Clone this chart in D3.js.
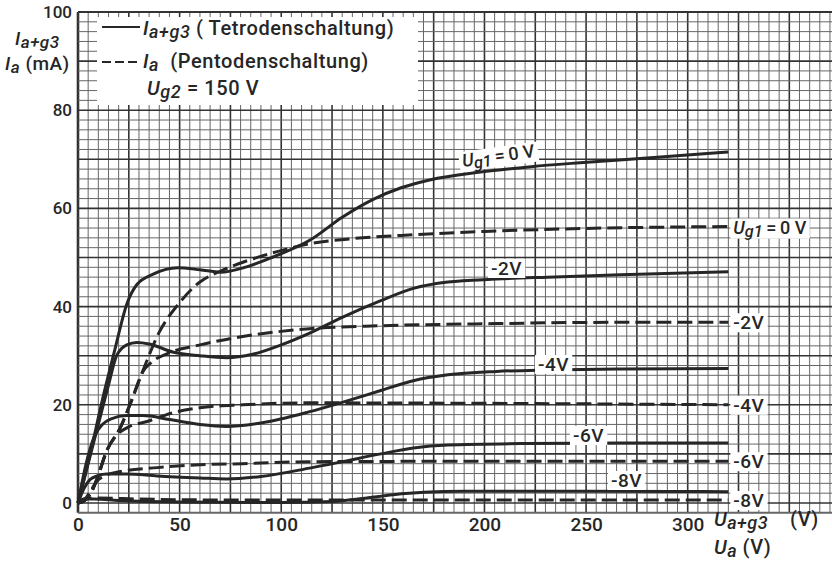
<!DOCTYPE html>
<html>
<head>
<meta charset="utf-8">
<script src="https://cdn.jsdelivr.net/npm/d3@7"></script>
<style>
  html, body { margin: 0; padding: 0; background: #fff; }
  svg { display: block; font-family: Roboto, "DejaVu Sans", sans-serif; }
</style>
</head>
<body>
<svg id="chart" width="832" height="563"></svg>
<script>
// Axis ticks
const anodeTicks = [0, 50, 100, 150, 200, 250, 300];     // U (V)
const currentTicks = [0, 20, 40, 60, 80, 100];           // I (mA)

// Tetrode connection (solid): [U_a+g3 in V, I_a+g3 in mA]
const tetrode0 = [[0,0],[6,10],[12,21],[18,31],[24,40.5],[29,44.5],[37,46.6],[49,47.9],[60,47.5],[70,47],[83,48.1],[96,50.1],[114,53.5],[130,58.2],[145,61.8],[159,64.2],[173,65.8],[198,67.4],[223,68.5],[247,69.3],[285,70.4],[320,71.5]];
const tetrodeM2 = [[0,0],[5,8],[10,16],[15,24],[19,30],[24,32.2],[29,32.7],[35,32.4],[47,30.7],[60,30],[73,29.6],[86,30.3],[100,32.2],[114,34.6],[130,37.8],[149,41.2],[165,43.7],[182,45],[206,45.6],[231,46],[267,46.5],[320,47.1]];
const tetrodeM4 = [[0,0],[4,8],[8,13.5],[12,16],[16,17.1],[24,17.8],[32,17.8],[45,17],[60,16],[73,15.6],[90,16.3],[114,18.6],[130,20.5],[149,22.9],[165,24.9],[182,26.1],[206,26.8],[231,27.1],[267,27.3],[320,27.4]];
const tetrodeM6 = [[0,0],[3,3],[6,4.8],[10,5.6],[14,5.9],[24,5.9],[39,5.5],[60,5.1],[73,4.9],[90,5.4],[114,7.1],[130,8.4],[149,10],[165,11.2],[182,11.8],[220,12.1],[267,12.2],[320,12.2]];
const tetrodeM8 = [[0,0],[3,0.8],[8,0.8],[20,0.5],[50,0.2],[100,0.1],[125,0.3],[140,0.9],[155,1.7],[170,2.2],[190,2.4],[250,2.4],[320,2.3]];

// Pentode connection (dashed): [U_a in V, I_a in mA]
const pentode0 = [[0,0],[3,0.4],[6,1.8],[9,4.5],[14,10.5],[21,15.5],[26,20.5],[32,27],[40,34.8],[49,40.3],[60,45],[70,47.2],[83,49.3],[98,51.2],[114,52.8],[134,53.8],[159,54.5],[200,55.3],[247,55.9],[320,56.3]];
const pentodeM2 = [[0,0],[3,0.4],[6,1.8],[9,4.5],[14,10.5],[21,15.5],[26,20.5],[32,26.8],[36,28.6],[45,30.6],[60,32.2],[81,33.9],[114,35.5],[149,36.1],[200,36.5],[267,36.8],[320,36.8]];
const pentodeM4 = [[0,0],[3,0.4],[6,1.8],[9,4.5],[14,10.5],[19,13.8],[24,15.3],[34,16.6],[47,18.4],[60,19.4],[81,20],[114,20.4],[200,20.3],[320,20]];
const pentodeM6 = [[0,0],[3,0.6],[6,2.3],[9,4.3],[13,5.5],[21,6.4],[39,7.2],[60,7.8],[81,8],[114,8.4],[200,8.5],[320,8.5]];
const pentodeM8 = [[0,0],[3,0.8],[10,1],[30,0.8],[80,0.6],[150,0.6],[250,0.6],[320,0.6]];

// Grid-1 voltage labels
const gridVoltages = ["0 V", "-2V", "-4V", "-6V", "-8V"];

const ink = "#262626";
const svg = d3.select("#chart");

const x = d3.scaleLinear().domain([0, 371]).range([78, 832]);
const y = d3.scaleLinear().domain([-2, 100]).range([512.8, 12]);

// ---- graph paper ----
const grid = svg.append("g");
const vLines = d3.range(0, 371, 5);
const hLines = d3.range(-2, 101, 2);
grid.selectAll("line.v").data(vLines).join("line")
  .attr("x1", d => x(d)).attr("x2", d => x(d))
  .attr("y1", y(100)).attr("y2", y(-2))
  .attr("stroke", d => d % 25 === 0 ? "#333" : "#666")
  .attr("stroke-width", d => d === 0 ? 2.6 : (d % 25 === 0 ? 1.6 : 1));
grid.selectAll("line.h").data(hLines).join("line")
  .attr("x1", x(0)).attr("x2", 832)
  .attr("y1", d => y(d)).attr("y2", d => y(d))
  .attr("stroke", d => d % 10 === 0 ? "#333" : "#666")
  .attr("stroke-width", d => (d === -2 || d === 100) ? 2 : (d % 10 === 0 ? 1.6 : 1));

// ---- axes (labels only, the paper provides the lines) ----
const yAxis = svg.append("g").attr("transform", `translate(${x(0)},0)`)
  .call(d3.axisLeft(y).tickValues(currentTicks).tickSize(0).tickPadding(6));
yAxis.select(".domain").remove();
yAxis.selectAll("text").attr("font-size", 17).attr("font-family", "Roboto, sans-serif")
  .attr("font-weight", 500).attr("fill", ink);

const xAxis = svg.append("g").attr("transform", `translate(0,${y(-2)})`)
  .call(d3.axisBottom(x).tickValues(anodeTicks).tickSize(0).tickPadding(5));
xAxis.select(".domain").remove();
xAxis.selectAll("text").attr("font-size", 19).attr("font-family", "Roboto, sans-serif")
  .attr("font-weight", 500).attr("fill", ink);

// ---- rich text helper (italic symbols with subscripts) ----
function rich(sel, parts, size) {
  let shift = 0;
  parts.forEach(p => {
    const want = p.sub ? size * 0.17 : 0;
    sel.append("tspan")
      .attr("dy", want - shift)
      .attr("font-style", p.it ? "italic" : "normal")
      .attr("font-size", p.sub ? size * 0.9 : size)
      .text(p.t);
    shift = want;
  });
  return sel;
}

function label(parent, px, py, parts, size, opts = {}) {
  const g = parent.append("g");
  if (opts.rotate) g.attr("transform", `rotate(${opts.rotate},${px},${py})`);
  const t = g.append("text").attr("x", px).attr("y", py)
    .attr("fill", ink).attr("font-size", size).attr("font-weight", 500)
    .attr("letter-spacing", opts.ls == null ? 0.5 : opts.ls)
    .attr("xml:space", "preserve");
  rich(t, parts, size);
  if (opts.bg) {
    const b = t.node().getBBox();
    g.insert("rect", "text")
      .attr("x", b.x - 3).attr("y", b.y + 2)
      .attr("width", b.width + 6).attr("height", b.height - 4)
      .attr("fill", "#fff");
  }
  return g;
}

// ---- curves ----
const line = d3.line().x(d => x(d[0])).y(d => y(d[1])).curve(d3.curveMonotoneX);
const curves = svg.append("g").attr("fill", "none").attr("stroke", ink)
  .attr("stroke-width", 3).attr("stroke-linecap", "butt");

[pentode0, pentodeM2, pentodeM4, pentodeM6, pentodeM8].forEach(s =>
  curves.append("path").attr("d", line(s)).attr("stroke-dasharray", "15,6"));
[tetrode0, tetrodeM2, tetrodeM4, tetrodeM6, tetrodeM8].forEach(s =>
  curves.append("path").attr("d", line(s)));

// ---- curve labels ----
const labels = svg.append("g");
const eq = "\u2009=\u2009";
// solid-curve labels inside the field
label(labels, 463, 167, [{t:"U", it:true}, {t:"g1", it:true, sub:true}, {t:eq + gridVoltages[0]}], 18, {bg:true, rotate:-8, ls:0});
label(labels, 491, 275, [{t:gridVoltages[1]}], 19, {bg:true});
label(labels, 538, 371, [{t:gridVoltages[2]}], 19, {bg:true});
label(labels, 573, 442, [{t:gridVoltages[3]}], 19, {bg:true});
label(labels, 611, 487, [{t:gridVoltages[4]}], 19, {bg:true});

// dashed-curve labels at the right ends
const endX = x(320) + 5;
label(labels, endX, y(pentode0[pentode0.length-1][1]) + 7, [{t:"U", it:true}, {t:"g1", it:true, sub:true}, {t:eq + gridVoltages[0]}], 18, {bg:true, ls:0});
[pentodeM2, pentodeM4, pentodeM6, pentodeM8].forEach((s, i) =>
  label(labels, endX, y(s[s.length-1][1]) + 7, [{t:gridVoltages[i+1]}], 19, {bg:true}));

// ---- legend ----
const legend = svg.append("g");
legend.append("rect").attr("x", 97).attr("y", 17).attr("width", 321).attr("height", 88).attr("fill", "#fff");
legend.append("line").attr("x1", 102).attr("x2", 140).attr("y1", 27).attr("y2", 27)
  .attr("stroke", ink).attr("stroke-width", 2.2);
label(legend, 143, 35, [{t:"I", it:true}, {t:"a+g3", it:true, sub:true}, {t:" ( Tetrodenschaltung)"}], 20, {ls:0.6});
legend.append("line").attr("x1", 102).attr("x2", 140).attr("y1", 62).attr("y2", 62)
  .attr("stroke", ink).attr("stroke-width", 2.2).attr("stroke-dasharray", "9,4");
label(legend, 143, 68, [{t:"I", it:true}, {t:"a", it:true, sub:true}, {t:"  (Pentodenschaltung)"}], 20, {ls:0.6});
label(legend, 147, 95, [{t:"U", it:true}, {t:"g2", it:true, sub:true}, {t:" = 150 V"}], 20, {ls:0.6});

// ---- axis titles ----
const titles = svg.append("g");
label(titles, 15, 45, [{t:"I", it:true}, {t:"a+g3", it:true, sub:true}], 19);
label(titles, 5, 70, [{t:"I", it:true}, {t:"a", it:true, sub:true}, {t:" (mA)"}], 19);
label(titles, 714, 526, [{t:"U", it:true}, {t:"a+g3", it:true, sub:true}, {t:"    (V)"}], 20);
label(titles, 714, 554, [{t:"U", it:true}, {t:"a", it:true, sub:true}, {t:" (V)"}], 20);
</script>
</body>
</html>
